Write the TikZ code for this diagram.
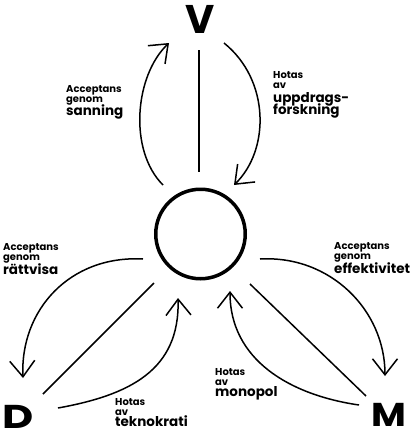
\documentclass[tikz,border=0pt]{standalone}
\usepackage{fontspec}
\setmainfont{Poppins}
\usetikzlibrary{arrows.meta}
\begin{document}
\begin{tikzpicture}[x=1pt,y=-1pt,
  conn/.style={line width=1.5pt},
  arr/.style={line width=1.5pt,-{Straight Barb[length=16pt,width=25pt]}},
  corner/.style={font=\fontsize{40}{40}\selectfont\bfseries, inner sep=0, anchor=base},
  cornerlow/.style={font=\fontsize{33}{33}\selectfont\bfseries, inner sep=0, anchor=base},
  sm/.style={font=\fontsize{10}{10}\selectfont\bfseries, inner sep=0, anchor=base west},
  lg/.style={font=\fontsize{13.5}{13.5}\selectfont\bfseries, inner sep=0, anchor=base west},
  hub/.style={circle, draw, line width=3.5pt, minimum size=89.5pt, inner sep=0}
]
\useasboundingbox[fill=white] (0,0) rectangle (414,432);

% centre and corner letters
\node[hub] (c) at (200.5,234) {};
\node[corner] (V) at (200,33) {V};
\node[cornerlow] (D) at (18.5,428.5) {\scalebox{1.3}[1]{D}};
\node[cornerlow] (M) at (389,426.5) {\scalebox{1.15}[1]{M}};

% straight connectors
\coordinate (v1) at (199,50);  \coordinate (v2) at (199,172);
\coordinate (d1) at (43,394);  \coordinate (d2) at (154,283);
\coordinate (m1) at (366,396); \coordinate (m2) at (250,284);
\draw[conn] (v1) -- (v2);
\draw[conn] (d1) -- (d2);
\draw[conn] (m1) -- (m2);

% curved arrows
\coordinate (a1s) at (163,185); \coordinate (a1e) at (169,43);
\draw[arr] (a1s) .. controls (128,150) and (135,75) .. (a1e);
\coordinate (a2s) at (224,43); \coordinate (a2e) at (234,185);
\draw[arr] (a2s) .. controls (270,80) and (270,150) .. (a2e);
\coordinate (a3s) at (143,259); \coordinate (a3e) at (23,378);
\draw[arr] (a3s) .. controls (70,255) and (20,310) .. (a3e);
\coordinate (a4s) at (58,408); \coordinate (a4e) at (178,298);
\draw[arr] (a4s) .. controls (130,395) and (180,370) .. (a4e);
\coordinate (a5s) at (260,259); \coordinate (a5e) at (385,376);
\draw[arr] (a5s) .. controls (330,255) and (385,310) .. (a5e);
\coordinate (a6s) at (359,405); \coordinate (a6e) at (230,291);
\draw[arr] (a6s) .. controls (290,395) and (230,360) .. (a6e);

% labels
\node[sm] (t1a) at (66,92.7) {Acceptans};
\node[sm] (t1b) at (66,102) {genom};
\node[lg] (t1c) at (66,115.5) {sanning};

\node[sm] (t2a) at (273,78) {Hotas};
\node[sm] (t2b) at (273,88) {av};
\node[lg] (t2c) at (273,102) {uppdrags-};
\node[lg] (t2d) at (273,114.5) {forskning};

\node[sm] (t3a) at (3,250) {Acceptans};
\node[sm] (t3b) at (3,260.5) {genom};
\node[lg] (t3c) at (3,274) {rättvisa};

\node[sm] (t4a) at (115,405) {Hotas};
\node[sm] (t4b) at (115,415) {av};
\node[lg] (t4c) at (115,426.7) {teknokrati};

\node[sm] (t5a) at (334,249.5) {Acceptans};
\node[sm] (t5b) at (334,259.5) {genom};
\node[lg] (t5c) at (334,273) {effektivitet};

\node[sm] (t6a) at (215,375) {Hotas};
\node[sm] (t6b) at (215,385) {av};
\node[lg] (t6c) at (215,396.5) {monopol};
\end{tikzpicture}
\end{document}
